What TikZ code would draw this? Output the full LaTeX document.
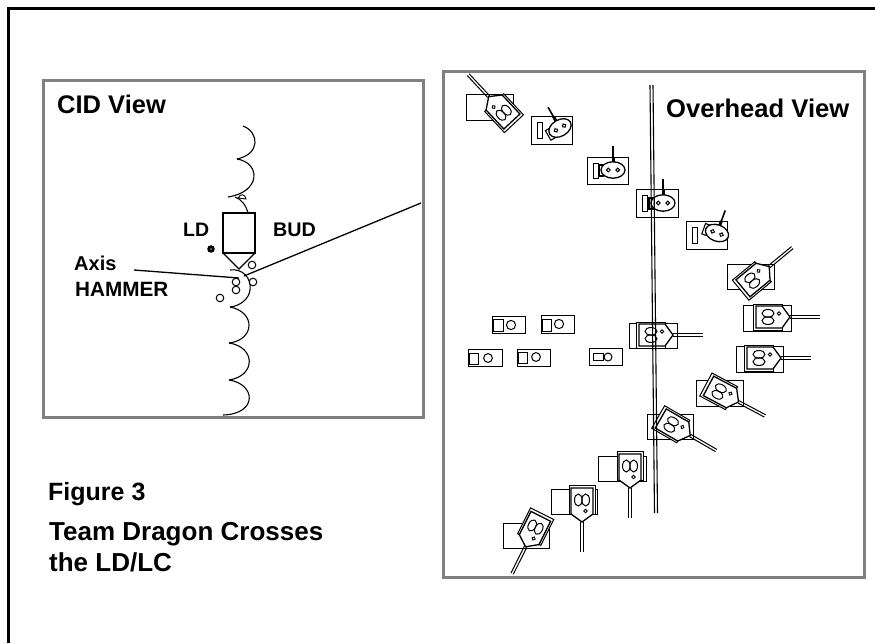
\documentclass[tikz,border=0pt]{standalone}
\usepackage{fontspec}
\setmainfont{Liberation Sans}
\newcommand{\lbl}[1]{\fontsize{#1}{#1}\selectfont\bfseries}
\tikzset{
  panel/.style={draw=black!50,line width=3pt},
  ink/.style={draw=black,line width=1.3pt},
  scallop/.style={draw=black,line width=1.1pt},
  ball/.style={draw=black,line width=1pt,fill=white},
  caption/.style={anchor=base west,inner sep=0pt,text=black},
  sled/.style={draw=black,line width=1pt},
  bar/.style={draw=black,line width=1pt,fill=white},
  robot/.pic={
    \draw[line width=1pt,fill=white] (-16,-13) rectangle (13,13);
    \draw[line width=1.3pt,fill=white] (-13,-11) -- (13,-11) -- (21,0) -- (13,11) -- (-13,11) -- cycle;
    \draw[line width=1pt] (-1,-3.7) ellipse [x radius=6,y radius=3.8];
    \draw[line width=1pt] (-1,3.7) ellipse [x radius=6,y radius=3.8];
    \draw[line width=.9pt] (10,-3.5) circle [radius=1.7];
    \draw[line width=1pt] (21,-1.3) -- (51,-1.3);
    \draw[line width=1pt] (21,1.3) -- (51,1.3);
  },
  head/.pic={
    \draw[line width=1.1pt,fill=white] (-14,-5) rectangle (-9.5,6);
    \draw[line width=1.3pt,fill=white] (0,0) ellipse [x radius=12,y radius=8.2];
    \draw[line width=1pt] (-4.7,0) circle [radius=1.9];
    \draw[line width=1pt] (4.7,0) circle [radius=1.9];
    \draw[line width=3pt] (0,-8) -- (0,-13);
    \draw[line width=1.6pt] (0,-13) -- (0,-24);
  }
}
\begin{document}
\begin{tikzpicture}[x=1pt,y=-1pt]
\useasboundingbox (0,0) rectangle (875,643);
% outer edge
\draw[black,line width=3pt] (8,643) -- (8,8.5) -- (875,8.5);
% panels
\draw[panel] (43,80) rectangle (423,417);
\draw[panel] (443,71) rectangle (864,577);
% CID view
\draw[scallop] (243,126) .. controls (259,132) and (261,154) .. (237,159);
\draw[scallop] (237,159) .. controls (261,163) and (261,192) .. (228,197);
\draw[scallop] (235,197) .. controls (241,199) and (246,205) .. (248,213);
\draw[line width=.9pt] (238,198) .. controls (241,193) and (245,194) .. (246,199) -- cycle;
\draw[ink] (223,213) rectangle (255,253);
\draw[ink] (223,253) -- (239,269) -- (255,253);
\draw[scallop] (230,270) .. controls (242,268) and (252,278) .. (250,290) .. controls (249,299) and (240,306) .. (230,307);
\draw[scallop] (230,307) .. controls (256,312) and (255,340) .. (229,343);
\draw[scallop] (229,343) .. controls (256,347) and (256,376) .. (229,380);
\draw[scallop] (229,380) .. controls (256,384) and (258,414) .. (223,415);
\draw[line width=1.3pt] (134,270) -- (239,278);
\draw[line width=1.3pt] (244,276) -- (421,203);
\draw[ball] (252,265) circle [radius=3.8];
\draw[ball] (236,282) circle [radius=3.8];
\draw[ball] (253,282) circle [radius=3.8];
\draw[ball] (236,290) circle [radius=3.8];
\draw[ball] (220,298) circle [radius=3.8];
\fill[black] (211,249) circle [radius=3.8];
\fill[black!45] (211,249) circle [radius=1];
% labels
\node[caption] (cid) at (57,113) {\lbl{25.5}CID View};
\node[caption] (ld) at (183,236) {\lbl{19.5}LD};
\node[caption] (bud) at (273,236) {\lbl{19.7}BUD};
\node[caption] (axis) at (74,270) {\lbl{20}Axis};
\node[caption] (hammer) at (75,296) {\lbl{20.7}HAMMER};
\node[caption] (fig) at (48,500) {\lbl{25}Figure 3};
\node[caption] (team) at (49,540) {\lbl{26}Team Dragon Crosses};
\node[caption] (the) at (49,571) {\lbl{26}the LD/LC};
\node[caption] (over) at (666,117) {\lbl{25.6}Overhead View};
% small sleds
\draw[sled] (492,316) rectangle (525,333);
\draw[bar] (493,319) rectangle (503,331);
\draw[sled] (511,325) circle [radius=4.6];
\draw[sled] (541,315) rectangle (574,333);
\draw[bar] (542,319) rectangle (551,331);
\draw[sled] (559,324) circle [radius=4.6];
\draw[sled] (468,349) rectangle (502,366);
\draw[bar] (469,353) rectangle (478,364);
\draw[sled] (488,358) circle [radius=4.4];
\draw[sled] (517,349) rectangle (550,366);
\draw[bar] (518,352) rectangle (527,363);
\draw[sled] (536,357) circle [radius=4.4];
\draw[sled] (589,348) rectangle (622,365);
\draw[bar] (593,353) rectangle (603,360);
\draw[sled] (608,357) circle [radius=4];
% upper sleds with heads
\draw[sled] (531,116) rectangle (572,144);
\draw[bar] (537,122) rectangle (542,138);
\pic[rotate=30] at (560,128) {head};
\draw[sled] (587,157) rectangle (628,184);
\draw[bar] (593,163) rectangle (598,178);
\pic at (613,170) {head};
\draw[sled] (636,189) rectangle (678,217);
\draw[bar] (642,195) rectangle (647,211);
\pic at (663,203) {head};
\draw[sled] (686,221) rectangle (727,249);
\draw[bar] (692,227) rectangle (697,243);
\pic[rotate=-20] at (717,233) {head};
% sleds with full robots
\draw[sled] (466,94) rectangle (513,120);
\pic[rotate=133] at (503,112) {robot};
\draw[sled] (727,264) rectangle (774,289);
\pic[rotate=39.5] at (753,280) {robot};
\draw[sled] (743,305) rectangle (791,331);
\pic at (769,317) {robot};
\draw[sled] (736,346) rectangle (783,372);
\pic at (760,358) {robot};
\draw[sled] (696,380) rectangle (743,406);
\pic[rotate=-28] at (720,392) {robot};
\draw[sled] (647,414) rectangle (693,439);
\pic[rotate=-30] at (672,425) {robot};
\draw[sled] (629,323) rectangle (677,348);
\pic at (652,335) {robot};
\draw[sled] (598,456) rectangle (646,481);
\pic[rotate=-90] at (630,467) {robot};
\draw[sled] (551,489) rectangle (597,514);
\pic[rotate=-90] at (582,501) {robot};
\draw[sled] (503,523) rectangle (549,548);
\pic[rotate=-116.6] at (535,528) {robot};
% centre line
\draw[line width=1.1pt] (650,85) -- (654.5,513);
\draw[line width=1.1pt] (653,85) -- (657.5,513);
\end{tikzpicture}
\end{document}
